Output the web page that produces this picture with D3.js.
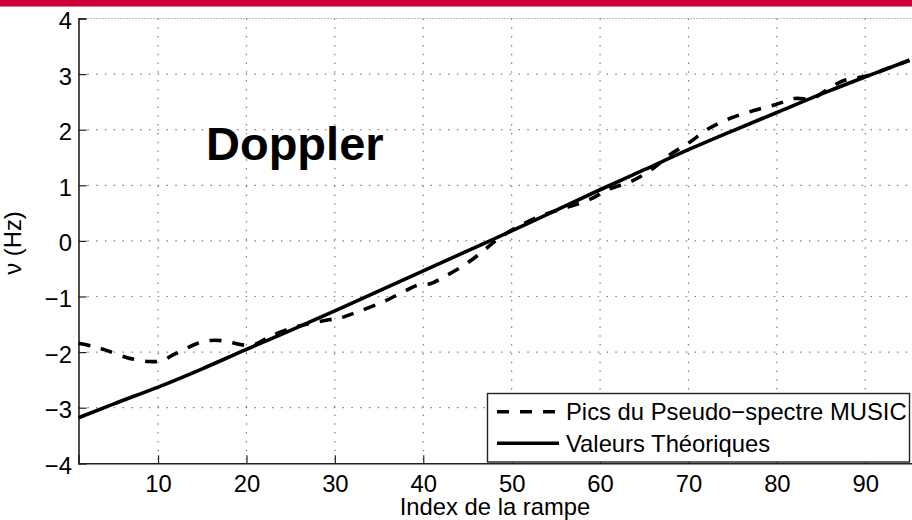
<!DOCTYPE html>
<html>
<head>
<meta charset="utf-8">
<script src="https://cdn.jsdelivr.net/npm/d3@7"></script>
<style>
  html, body { margin: 0; padding: 0; background: #fff; }
  svg { display: block; }
  text { font-family: "Liberation Sans", Arial, Helvetica, sans-serif; fill: #000; }
</style>
</head>
<body>
<svg id="chart" width="912" height="520"></svg>
<script>
// Tick values
const xTicks = [10, 20, 30, 40, 50, 60, 70, 80, 90];
const yTicks = [-4, -3, -2, -1, 0, 1, 2, 3, 4];

// Theoretical Doppler frequency vs ramp index
const theoIndex  = [1, 5, 10, 15, 20, 25, 30, 35, 40, 45, 50, 55, 60, 65, 70, 75, 80, 85, 90, 95];
const theoValues = [-3.18, -2.93, -2.63, -2.30, -1.95, -1.61, -1.26, -0.90, -0.54, -0.18,
                     0.18, 0.55, 0.92, 1.28, 1.64, 1.98, 2.31, 2.64, 2.95, 3.25];

// MUSIC pseudo-spectrum peaks vs ramp index
const musicIndex  = [1, 2.5, 4, 6.5, 9, 10.5, 11.7, 13, 14.5, 16, 17.5, 19.5, 21, 22.5, 24.5, 27,
                     29.3, 30.5, 32.5, 35.4, 37.6, 39.3, 40.8, 42.3, 44.5, 46.5, 48.5, 51, 53.5,
                     56, 58.9, 61, 63.5, 65.7, 67.9, 70, 72.4, 74.8, 77.3, 79.8, 82, 84, 85.5,
                     87.5, 90, 92.5, 95];
const musicValues = [-1.84, -1.89, -1.96, -2.10, -2.17, -2.15, -2.05, -1.95, -1.84, -1.79, -1.80,
                     -1.87, -1.86, -1.73, -1.60, -1.49, -1.42, -1.39, -1.28, -1.10, -0.93, -0.80,
                     -0.77, -0.65, -0.45, -0.22, 0.04, 0.28, 0.46, 0.59, 0.75, 0.93, 1.07, 1.27,
                     1.55, 1.76, 2.03, 2.21, 2.34, 2.45, 2.56, 2.56, 2.70, 2.88, 2.96, 3.10, 3.25];

const legendLabels = ["Pics du Pseudo\u2212spectre MUSIC", "Valeurs Th\u00e9oriques"];

const svg = d3.select("#chart");
const W = 912, H = 520;

// Header band
svg.append("rect").attr("x", 0).attr("y", 0).attr("width", W).attr("height", 6).attr("fill", "#cc0036");
svg.append("rect").attr("x", 0).attr("y", 6).attr("width", W).attr("height", 1).attr("fill", "#e07890");

const plotLeft = 78.5, plotTop = 18.5, plotBottom = 463.3;
const x = d3.scaleLinear().domain([1, 96]).range([plotLeft, plotLeft + 95 * 8.84]);
const y = d3.scaleLinear().domain([-4, 4]).range([plotBottom, plotTop]);

const fontSize = 23.8;
const dashPattern = "12,11";

// Grid
const grid = svg.append("g");
grid.selectAll("line.gx").data(xTicks).join("line")
  .attr("x1", d => x(d)).attr("x2", d => x(d))
  .attr("y1", plotTop).attr("y2", plotBottom)
  .attr("stroke", "#808080").attr("stroke-width", 1.2).attr("stroke-dasharray", "1.5,7.3");
grid.selectAll("line.gy").data(yTicks.filter(d => d > -4 && d < 4)).join("line")
  .attr("x1", plotLeft).attr("x2", W)
  .attr("y1", d => y(d)).attr("y2", d => y(d))
  .attr("stroke", "#808080").attr("stroke-width", 1.2).attr("stroke-dasharray", "1.5,7.3");
// top border
svg.append("line").attr("x1", plotLeft).attr("x2", W).attr("y1", plotTop).attr("y2", plotTop)
  .attr("stroke", "#777").attr("stroke-width", 1).attr("stroke-dasharray", "1,2");

// Axes (ticks inside)
const yAxis = d3.axisLeft(y).tickValues(yTicks).tickSize(-8).tickPadding(6.5)
  .tickFormat(d => d < 0 ? "\u2212" + Math.abs(d) : String(d));
const gy = svg.append("g").attr("transform", `translate(${plotLeft},0)`).call(yAxis);
gy.select(".domain").attr("stroke", "#222").attr("stroke-width", 1.6);
gy.selectAll(".tick line").attr("stroke", "#222").attr("stroke-width", 1.2);
gy.selectAll(".tick text").attr("font-size", fontSize).attr("font-family", "Liberation Sans, Arial, sans-serif")
  .attr("fill", "#000").attr("dy", "0.42em");

const xAxis = d3.axisBottom(x).tickValues(xTicks).tickSize(-8).tickPadding(11.5);
const gx = svg.append("g").attr("transform", `translate(0,${plotBottom})`).call(xAxis);
gx.select(".domain").attr("stroke", "#222").attr("stroke-width", 1.6);
gx.selectAll(".tick line").attr("stroke", "#222").attr("stroke-width", 1.2);
gx.selectAll(".tick text").attr("font-size", fontSize).attr("font-family", "Liberation Sans, Arial, sans-serif")
  .attr("fill", "#000");

// Axis labels
svg.append("text").attr("x", 495).attr("y", 514.5).attr("text-anchor", "middle")
  .attr("font-size", fontSize).text("Index de la rampe");
svg.append("text").attr("transform", "translate(21,243) rotate(-90)").attr("text-anchor", "middle")
  .attr("font-size", fontSize).text("\u03bd (Hz)");

// Series lines
const musicLine = d3.line().x((d, i) => x(musicIndex[i])).y(d => y(d)).curve(d3.curveCatmullRom);
const theoLine = d3.line().x((d, i) => x(theoIndex[i])).y(d => y(d)).curve(d3.curveMonotoneX);

svg.append("path").datum(musicValues).attr("d", musicLine)
  .attr("fill", "none").attr("stroke", "#000").attr("stroke-width", 3.6)
  .attr("stroke-dasharray", dashPattern);
svg.append("path").datum(theoValues).attr("d", theoLine)
  .attr("fill", "none").attr("stroke", "#000").attr("stroke-width", 3.6);

// Annotation
svg.append("text").attr("x", 206).attr("y", 160).attr("font-size", 47).attr("font-weight", "bold")
  .text("Doppler");

// Legend
const lg = svg.append("g");
lg.append("rect").attr("x", 487.5).attr("y", 393.5).attr("width", 422).attr("height", 68.5)
  .attr("fill", "#fff").attr("stroke", "#222").attr("stroke-width", 1.4);
const rows = [411.7, 443.3];
lg.append("line").attr("x1", 497).attr("x2", 559).attr("y1", rows[0]).attr("y2", rows[0])
  .attr("stroke", "#000").attr("stroke-width", 3.6).attr("stroke-dasharray", dashPattern);
lg.append("line").attr("x1", 497).attr("x2", 559).attr("y1", rows[1]).attr("y2", rows[1])
  .attr("stroke", "#000").attr("stroke-width", 3.6);
lg.selectAll("text.lab").data(legendLabels).join("text")
  .attr("x", 566).attr("y", (d, i) => rows[i]).attr("dy", "0.36em")
  .attr("font-size", fontSize).text(d => d);
</script>
</body>
</html>
